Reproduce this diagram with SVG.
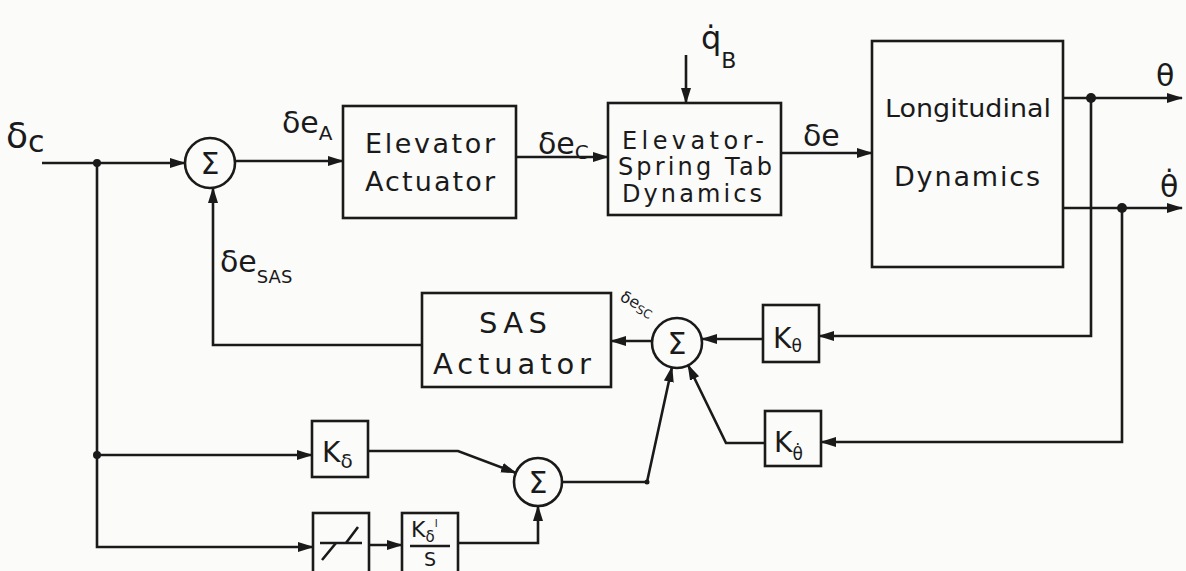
<svg xmlns="http://www.w3.org/2000/svg" width="1186" height="571" viewBox="0 0 1186 571">
<defs>
<marker id="arr" markerWidth="16" markerHeight="12" refX="15" refY="6" orient="auto" markerUnits="userSpaceOnUse">
<path d="M0,1 L16,6 L0,11 Z" fill="#1a1a1a"/>
</marker>
<style>
.box{fill:none;stroke:#1a1a1a;stroke-width:2.6}
.ln{fill:none;stroke:#1a1a1a;stroke-width:2.6;stroke-linejoin:miter}
.t{font-family:"DejaVu Sans","Liberation Sans",sans-serif;fill:#1a1a1a}
.sig{font-family:"DejaVu Sans",sans-serif;font-size:30px;fill:#1a1a1a;text-anchor:middle}
.dot{fill:#1a1a1a}
</style>
</defs>
<rect width="1186" height="571" fill="#fbfbfa"/>

<g id="connectors">
<path class="ln" d="M42 163 H185" marker-end="url(#arr)"/>
<path class="ln" d="M235 161 H343" marker-end="url(#arr)"/>
<path class="ln" d="M516 157 H608" marker-end="url(#arr)"/>
<path class="ln" d="M686 55 V103" marker-end="url(#arr)"/>
<path class="ln" d="M781 153 H872" marker-end="url(#arr)"/>
<path class="ln" d="M1063 98 H1182" marker-end="url(#arr)"/>
<path class="ln" d="M1063 208 H1182" marker-end="url(#arr)"/>
<path class="ln" d="M1091 98 V336 H819" marker-end="url(#arr)"/>
<path class="ln" d="M1122 208 V442 H821" marker-end="url(#arr)"/>
<path class="ln" d="M763 339 H702" marker-end="url(#arr)"/>
<path class="ln" d="M765 443 H726 L688 365" marker-end="url(#arr)"/>
<path class="ln" d="M562 482 H647 L672 367" marker-end="url(#arr)"/>
<path class="ln" d="M652 341 H611" marker-end="url(#arr)"/>
<path class="ln" d="M422 345 H213 V188" marker-end="url(#arr)"/>
<path class="ln" d="M97 163 V547 H313" marker-end="url(#arr)"/>
<path class="ln" d="M97 455 H312" marker-end="url(#arr)"/>
<path class="ln" d="M368 451 H458 L516 473" marker-end="url(#arr)"/>
<path class="ln" d="M369 545 H402" marker-end="url(#arr)"/>
<path class="ln" d="M458 543 H538 V506" marker-end="url(#arr)"/>
<circle class="dot" cx="97" cy="163" r="4"/>
<circle class="dot" cx="97" cy="455" r="4"/>
<circle class="dot" cx="1091" cy="98" r="5"/>
<circle class="dot" cx="1122" cy="208" r="5"/>
<circle class="dot" cx="647" cy="482" r="2.5"/>
</g>

<g id="labels">
<text class="t" x="6" y="148" font-size="36">δ<tspan font-size="30" dy="4">c</tspan></text>
<text class="t" x="282" y="133" font-size="30">δe<tspan font-size="20" dy="7">A</tspan></text>
<text class="t" x="538" y="154" font-size="30">δe<tspan font-size="20" dy="5">C</tspan></text>
<text class="t" x="803" y="146" font-size="30">δe</text>
<text class="t" x="220" y="272" font-size="30">δe<tspan font-size="18" dy="11">SAS</tspan></text>
<text class="t" x="619" y="300" font-size="16" transform="rotate(28 619 300)">δe<tspan font-size="12" dy="3">SC</tspan></text>
<text class="t" x="701" y="49" font-size="32">q̇<tspan font-size="22" dy="19">B</tspan></text>
<text class="t" x="1156" y="86" font-size="30">θ</text>
<text class="t" x="1160" y="197" font-size="30">θ̇</text>
</g>

<g id="sum1"><circle class="box" cx="210" cy="163" r="25"/><text class="sig" x="210" y="174">Σ</text></g>
<g id="elevator-actuator"><rect class="box" x="343" y="106" width="173" height="112"/>
<text class="t" x="430" y="153" font-size="27" text-anchor="middle" textLength="130" lengthAdjust="spacing">Elevator</text>
<text class="t" x="430" y="191" font-size="27" text-anchor="middle" textLength="130" lengthAdjust="spacing">Actuator</text></g>
<g id="elevator-spring-tab"><rect class="box" x="608" y="103" width="173" height="112"/>
<text class="t" x="693" y="149" font-size="24" text-anchor="middle" textLength="142" lengthAdjust="spacing">Elevator-</text>
<text class="t" x="695" y="175" font-size="24" text-anchor="middle" textLength="154" lengthAdjust="spacing">Spring Tab</text>
<text class="t" x="692" y="202" font-size="24" text-anchor="middle" textLength="140" lengthAdjust="spacing">Dynamics</text></g>
<g id="longitudinal-dynamics"><rect class="box" x="872" y="41" width="191" height="226"/>
<text class="t" x="968" y="117" font-size="24" text-anchor="middle" textLength="166" lengthAdjust="spacingAndGlyphs">Longitudinal</text>
<text class="t" x="967" y="186" font-size="27" text-anchor="middle" textLength="146" lengthAdjust="spacing">Dynamics</text></g>
<g id="sas-actuator"><rect class="box" x="422" y="293" width="189" height="94"/>
<text class="t" x="513" y="333" font-size="29" text-anchor="middle" textLength="68" lengthAdjust="spacing">SAS</text>
<text class="t" x="512" y="374" font-size="29" text-anchor="middle" textLength="158" lengthAdjust="spacing">Actuator</text></g>
<g id="sum2"><circle class="box" cx="677" cy="343" r="25"/><text class="sig" x="677" y="354">Σ</text></g>
<g id="k-theta"><rect class="box" x="763" y="305" width="56" height="57"/>
<text class="t" x="773" y="348" font-size="28">K<tspan font-size="17" dy="4">θ</tspan></text></g>
<g id="k-thetadot"><rect class="box" x="765" y="411" width="56" height="55"/>
<text class="t" x="774" y="452" font-size="28">K<tspan font-size="17" dy="8">θ̇</tspan></text></g>
<g id="k-delta"><rect class="box" x="312" y="421" width="56" height="56"/>
<text class="t" x="322" y="462" font-size="28">K<tspan font-size="20" dy="6">δ</tspan></text></g>
<g id="sum3"><circle class="box" cx="538" cy="482" r="24"/><text class="sig" x="538" y="493">Σ</text></g>
<g id="nonlinearity"><rect class="box" x="313" y="513" width="56" height="70"/>
<path class="ln" d="M320 543 H362" stroke-width="2"/>
<path class="ln" d="M322 560 L336 543 M346 543 L358 527" stroke-width="3"/></g>
<g id="k-delta-integral"><rect class="box" x="402" y="513" width="56" height="70"/>
<text class="t" x="411" y="537" font-size="22">K<tspan font-size="15" dy="5">δ</tspan><tspan font-size="10" dy="-15">I</tspan></text>
<path class="ln" d="M410 546 H450" stroke-width="2"/>
<text class="t" x="430" y="566" font-size="19" text-anchor="middle">S</text></g>
</svg>
